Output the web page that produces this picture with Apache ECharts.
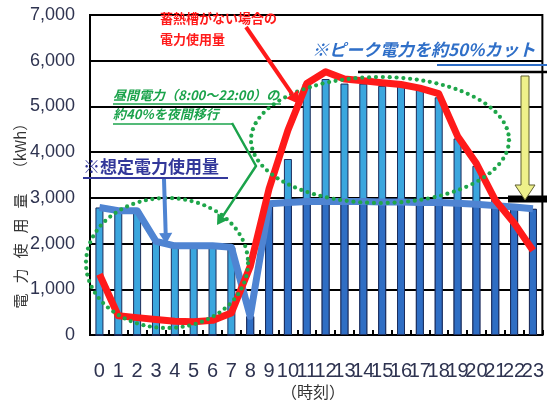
<!DOCTYPE html>
<html>
<head>
<meta charset="utf-8">
<script src="https://cdn.jsdelivr.net/npm/echarts@6/dist/echarts.min.js"></script>
<style>
  html, body { margin: 0; padding: 0; background: #ffffff; }
  #wrap { position: relative; width: 547px; height: 419px; }
  #c, #notes { position: absolute; left: 0; top: 0; width: 547px; height: 419px; }
  #notes { pointer-events: none; }
</style>
</head>
<body>
<div id="wrap">
  <div id="c"></div>
  <div id="notes"></div>
</div>
<script>
// Hours of the day (category axis)
const hours = ['0','1','2','3','4','5','6','7','8','9','10','11','12','13','14','15','16','17','18','19','20','21','22','23'];

// Y axis ticks (kWh) and their labels
const yTickValues = [0, 1000, 2000, 3000, 4000, 5000, 6000, 7000];
const yTickLabels = ['0','1,000','2,000','3,000','4,000','5,000','6,000','7,000'];

// Power usage without thermal storage (kWh)
const usageNoStorage = [1330, 420, 380, 340, 300, 290, 320, 480, 1500, 3200, 4480, 5500, 5760, 5600, 5560, 5520, 5480, 5400, 5280, 4350, 3750, 2950, 2450, 1850];

// Planned power usage with storage (kWh)
const plannedUsage = [2790, 2720, 2720, 2050, 1950, 1950, 1950, 1920, 410, 2870, 2900, 2920, 2920, 2920, 2920, 2910, 2910, 2900, 2900, 2880, 2860, 2830, 2800, 2760];

// Bar heights: full demand per hour, and the grid-supplied part
const demandBars = [2790, 2720, 2720, 2050, 1950, 1950, 1950, 1920, 410, 2870, 3850, 5500, 5600, 5500, 5500, 5450, 5450, 5400, 5200, 4300, 3700, 3000, 2800, 2760];
const gridBars   = [0, 0, 0, 0, 0, 0, 0, 0, 410, 2870, 2900, 2920, 2920, 2920, 2920, 2910, 2910, 2900, 2900, 2880, 2860, 2830, 2800, 2760];

const NARROW = '"Liberation Sans Narrow", "Arial Narrow", "Liberation Sans", Arial, sans-serif';
const JP = '"Noto Sans CJK JP", "Noto Sans", sans-serif';

// ---- Main chart ----
const chart = echarts.init(document.getElementById('c'));
chart.setOption({
  animation: false,
  backgroundColor: '#ffffff',
  // Frame around the plot area (left axis, bottom axis, top border)
  grid: { left: 90, right: 1, top: 15, bottom: 84, show: true,
    borderColor: '#000000', borderWidth: 2, backgroundColor: 'rgba(0,0,0,0)' },
  xAxis: {
    type: 'category',
    data: hours,
    axisLine: { show: true, lineStyle: { color: '#000000', width: 2 } },
    axisTick: { show: true, inside: true, length: 5, lineStyle: { color: '#000000', width: 2 } },
    axisLabel: { interval: 0, margin: 26, fontFamily: NARROW, fontSize: 20, color: '#2e3350' }
  },
  yAxis: {
    type: 'value',
    min: 0, max: 7000, interval: 1000,
    axisLine: { show: true, lineStyle: { color: '#000000', width: 2 } },
    axisTick: { show: false },
    splitLine: { show: true, lineStyle: { color: '#000000', width: 2 } },
    axisLabel: { margin: 15, fontFamily: NARROW, fontSize: 18, color: '#2e3350',
      formatter: v => yTickLabels[yTickValues.indexOf(v)] }
  },
  series: [
    { type: 'bar', data: demandBars, barWidth: 8, barGap: '-100%',
      itemStyle: { color: '#3ba6de', borderColor: '#1c2d5c', borderWidth: 1 }, z: 2,
      // Horizontal gridlines at every tick, kept behind the bars
      markLine: {
        z: 1, silent: true, symbol: ['none', 'none'],
        label: { show: false },
        lineStyle: { color: '#000000', width: 2, type: 'solid' },
        emphasis: { disabled: true },
        data: yTickValues.map(v => ({ yAxis: v }))
      } },
    { type: 'bar', data: gridBars, barWidth: 8,
      itemStyle: { color: '#2f6ec4', borderColor: '#1c2d5c', borderWidth: 1 }, z: 3 },
    { type: 'line', data: plannedUsage, symbol: 'none', z: 5,
      lineStyle: { color: '#4f84d2', width: 7, join: 'round' } },
    { type: 'line', data: usageNoStorage, symbol: 'none', z: 6,
      lineStyle: { color: '#ff1a1a', width: 7, join: 'round' } }
  ]
});

// ---- Annotation layer (callouts, arrows, dotted outlines, axis titles) ----
const notes = [];

function arrow(points, color, width, head) {
  const n = points.length;
  const [x1, y1] = points[n - 2];
  const [x2, y2] = points[n - 1];
  const a = Math.atan2(y2 - y1, x2 - x1);
  const hw = head * 0.6;
  const bx = x2 - head * Math.cos(a), by = y2 - head * Math.sin(a);
  const p1 = [bx + hw * Math.sin(a), by - hw * Math.cos(a)];
  const p2 = [bx - hw * Math.sin(a), by + hw * Math.cos(a)];
  notes.push({ type: 'polyline', shape: { points: points.slice(0, n - 1).concat([[bx, by]]) },
    style: { stroke: color, lineWidth: width, fill: null, lineJoin: 'round' } });
  notes.push({ type: 'polygon', shape: { points: [p1, [x2, y2], p2] }, style: { fill: color } });
}

function label(x, y, str, opts) {
  notes.push({ type: 'text', x: x, y: y,
    style: Object.assign({ text: str, fontFamily: JP, fontWeight: 'bold', fontSize: 13, fill: '#000' }, opts) });
}

function hline(x1, x2, y, color, w) {
  notes.push({ type: 'line', shape: { x1: x1, y1: y, x2: x2, y2: y }, style: { stroke: color, lineWidth: w } });
}

// Oval outline made of round dots spaced evenly along its perimeter
function dottedOval(cx, cy, rx, ry, gap) {
  const steps = 2000;
  let prev = [cx + rx, cy], run = gap;
  for (let i = 1; i <= steps; i++) {
    const t = (i / steps) * Math.PI * 2;
    const p = [cx + rx * Math.cos(t), cy + ry * Math.sin(t)];
    run += Math.hypot(p[0] - prev[0], p[1] - prev[1]);
    prev = p;
    if (run >= gap) {
      run = 0;
      notes.push({ type: 'circle', shape: { cx: p[0], cy: p[1], r: 2.1 }, style: { fill: '#1fa64a' } });
    }
  }
}

// Axis titles
['電', '力', '使', '用', '量'].forEach((ch, i) => {
  notes.push({ type: 'text', x: 20, y: 301 - i * 25, rotation: Math.PI / 2,
    style: { text: ch, fontFamily: JP, fontSize: 15, fill: '#333', align: 'center', verticalAlign: 'middle' } });
});
notes.push({ type: 'text', x: 20, y: 146, rotation: Math.PI / 2,
  style: { text: '（kWh）', fontFamily: JP, fontSize: 15, fill: '#333', align: 'center', verticalAlign: 'middle' } });
notes.push({ type: 'text', x: 313, y: 392,
  style: { text: '（時刻）', fontFamily: JP, fontSize: 16, fill: '#333', align: 'center', verticalAlign: 'middle' } });

// Peak reference line and reduced-peak mark
hline(358, 547, 72, '#000', 2.5);
hline(508, 547, 199, '#000', 7);
notes.push({ type: 'polygon', shape: { points: [[521, 76], [529, 76], [529, 185], [535, 185], [525, 200], [515, 185], [521, 185]] },
  style: { fill: '#eef08a', stroke: '#5e5e30', lineWidth: 1 } });

// Dotted outlines: night charging and daytime peak
dottedOval(167, 263, 81, 65, 6.5);
dottedOval(380, 140, 129, 63, 6.5);

// Red callout
label(160, 12, '蓄熱槽がない場合の', { fill: '#ff1a1a' });
label(160, 33, '電力使用量', { fill: '#ff1a1a' });
arrow([[246, 27], [299, 104]], '#ff1a1a', 4, 12);

// Green callout
label(113, 89, '昼間電力（8:00～22:00）の', { fill: '#1ba34b', fontStyle: 'italic' });
hline(113, 281, 104, '#1ba34b', 1.5);
label(113, 108, '約40%を夜間移行', { fill: '#1ba34b', fontStyle: 'italic' });
hline(113, 233, 124, '#1ba34b', 1.5);
arrow([[232, 123], [256, 166], [217, 225]], '#1ba34b', 2.5, 10);

// Planned-usage callout
label(83, 158, '※想定電力使用量', { fill: '#33389a', fontSize: 17 });
hline(83, 228, 178, '#33389a', 2);
arrow([[164, 179], [166, 244]], '#4f84d2', 4, 11);

// Peak-cut note
label(312, 41, '※ピーク電力を約50%カット', { fill: '#2f6fc8', fontSize: 17, fontStyle: 'italic' });
hline(437, 547, 65, '#2f6fc8', 2);

const noteLayer = echarts.init(document.getElementById('notes'));
noteLayer.setOption({
  animation: false,
  backgroundColor: 'rgba(0,0,0,0)',
  graphic: notes
});
</script>
</body>
</html>
